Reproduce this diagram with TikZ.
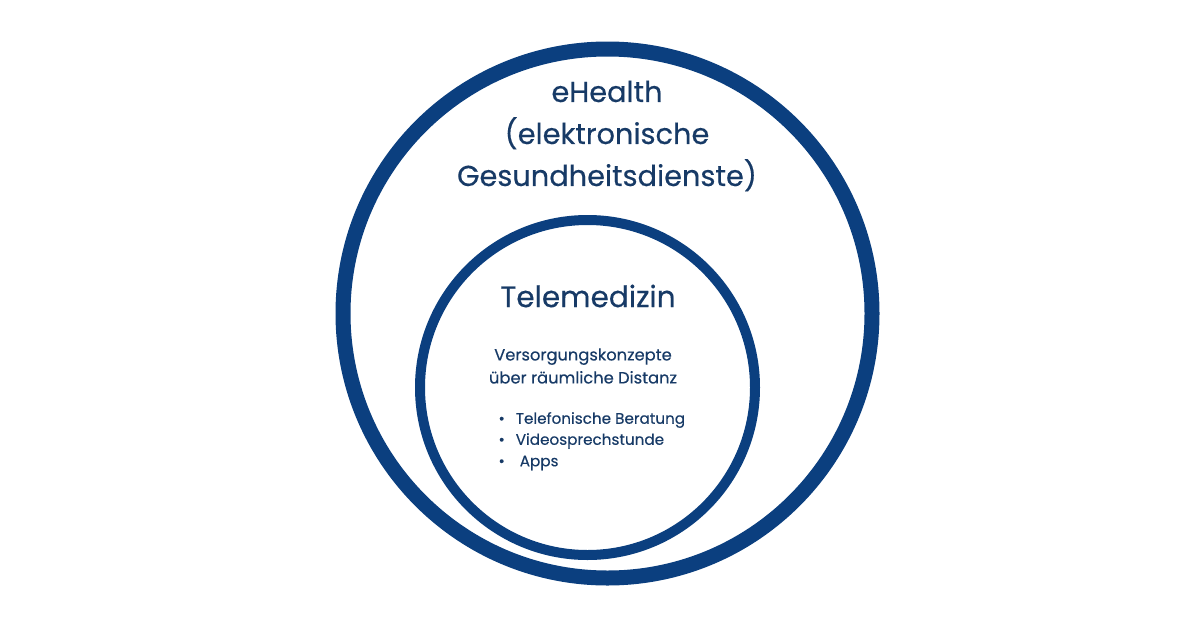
\documentclass[tikz,border=0pt]{standalone}
\usepackage{fontspec}
\setmainfont{Poppins}[FakeBold=0.35]
\definecolor{ringblue}{HTML}{0B3F7F}
\definecolor{textblue}{HTML}{173A66}
\begin{document}
\begin{tikzpicture}[x=1pt,y=-1pt,
  ring/.style={draw=ringblue},
  title/.style={text=textblue,align=center,font=\fontsize{28.8}{42}\selectfont},
  body/.style={text=textblue,align=center,font=\fontsize{16.3}{23}\selectfont},
  item/.style={text=textblue,anchor=west,font=\fontsize{15.2}{21.5}\selectfont}]
\useasboundingbox (0,0) rectangle (1200,627);
\draw[ring,line width=15pt] (607.5,313.5) circle (264.5);
\draw[ring,line width=10pt] (587.5,387.5) circle (167.5);
\node[title] (eh) at (607,136) {eHealth\\(elektronische\\Gesundheitsdienste)};
\node[title,font=\fontsize{29.5}{42}\selectfont] (tm) at (588,296) {Telemedizin};
\node[body] (vk) at (583,366) {Versorgungskonzepte\\über räumliche Distanz};
\node[item] (b1) at (495,420) {•\hspace{11pt}Telefonische Beratung};
\node[item] (b2) at (495,441) {•\hspace{11pt}Videosprechstunde};
\node[item] (b3) at (495,463) {•\hspace{15pt}Apps};
\end{tikzpicture}
\end{document}
